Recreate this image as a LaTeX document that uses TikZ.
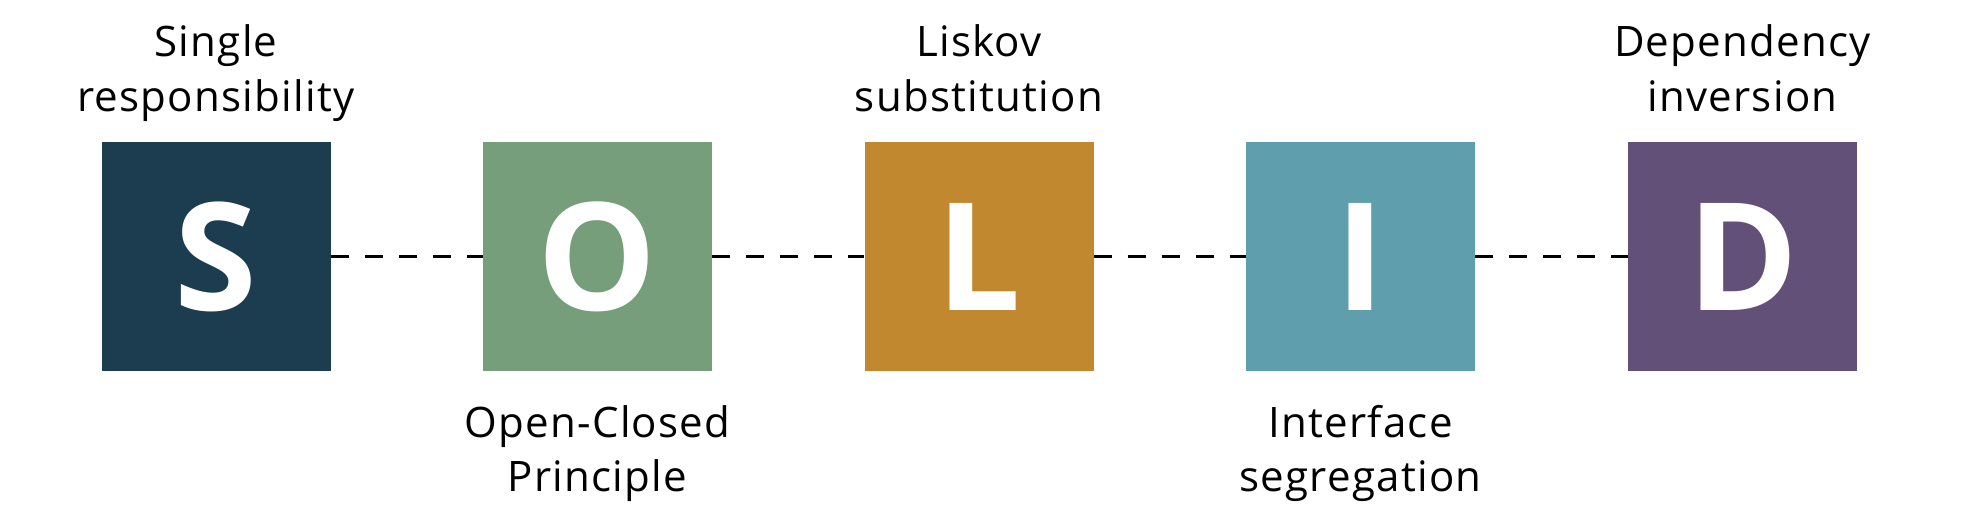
\documentclass[tikz,border=0pt]{standalone}
\usepackage{fontspec}
\setmainfont{Open Sans}
\newfontfamily\labfont[LetterSpace=3]{Open Sans}
\newfontfamily\bigfont{Open Sans}
\definecolor{cS}{HTML}{1B3D4F}
\definecolor{cO}{HTML}{769E7B}
\definecolor{cL}{HTML}{C2882F}
\definecolor{cI}{HTML}{5F9FAD}
\definecolor{cD}{HTML}{625078}
\begin{document}
\begin{tikzpicture}[x=1pt,y=-1pt,
  letterbox/.style={minimum width=229pt,minimum height=229pt,inner sep=0pt,text=white,font=\bigfont\fontsize{150}{150}\selectfont\bfseries},
  lab/.style={anchor=base,inner sep=0pt,font=\labfont\fontsize{42}{50}\selectfont},
  link/.style={line width=3pt,dash pattern=on 18pt off 16pt}]
\useasboundingbox (0,0) rectangle (1972,532);
\node[letterbox,fill=cS] (S) at (216,256.5) {S};
\node[letterbox,fill=cO] (O) at (597.5,256.5) {O};
\node[letterbox,fill=cL] (L) at (979,256.5) {L};
\node[letterbox,fill=cI] (I) at (1360.5,256.5) {I};
\node[letterbox,fill=cD] (D) at (1742.5,256.5) {D};
\draw[link] (S.east) -- (O.west);
\draw[link] (O.east) -- (L.west);
\draw[link] (L.east) -- (I.west);
\draw[link] (I.east) -- (D.west);
\node[lab] (s1) at (216,56.7) {Single};
\node[lab] (s2) at (216,111.5) {responsibility};
\node[lab] (o1) at (597.5,437.5) {Open-Closed};
\node[lab] (o2) at (597.5,491) {Principle};
\node[lab] (l1) at (979,56.7) {Liskov};
\node[lab] (l2) at (979,111.5) {substitution};
\node[lab] (i1) at (1360.5,437.5) {Interface};
\node[lab] (i2) at (1360.5,491) {segregation};
\node[lab] (d1) at (1742.5,56.7) {Dependency};
\node[lab] (d2) at (1742.5,111.5) {inversion};
\end{tikzpicture}
\end{document}
